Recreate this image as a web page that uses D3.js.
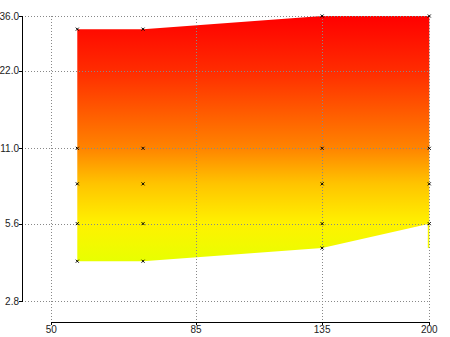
<!DOCTYPE html>
<html>
<head>
<meta charset="utf-8">
<script src="https://d3js.org/d3.v7.min.js"></script>
<style>
  body { margin: 0; background: #fff; }
  text { font-family: "Liberation Sans Narrow", "Arial Narrow", "Liberation Sans", sans-serif; font-size: 10px; fill: #222; }
</style>
</head>
<body>
<svg id="chart" width="450" height="337"></svg>
<script>
// tick labels
const xTicks = [50, 85, 135, 200];
const yTicks = [2.8, 5.6, 11.0, 22.0, 36.0];

// envelope of the filled region
const xs = [55, 70, 135, 200];
const upper = [32, 32, 36, 36];
const lower = [4, 4, 4.5, 5.6];

// sample points (x markers)
const pointX = [55, 55, 55, 55, 55, 70, 70, 70, 70, 70, 135, 135, 135, 135, 135, 200, 200, 200, 200];
const pointY = [4, 5.6, 8, 11, 32, 4, 5.6, 8, 11, 32, 4.5, 5.6, 8, 11, 36, 5.6, 8, 11, 36];

// colour ramp by value
const gradValues = [36, 22, 11, 8, 5.6, 4];
const gradColors = ["#ff0000", "#ff2c00", "#ff8400", "#ffc400", "#fff200", "#e8ff00"];

const svg = d3.select("#chart");

const x = d3.scaleLog().domain([50, 200]).range([51.3, 429.3]);
const y = d3.scaleLog().domain([2.8, 36]).range([301, 16]);

// gradient
const grad = svg.append("defs").append("linearGradient")
    .attr("id", "fillGrad")
    .attr("gradientUnits", "userSpaceOnUse")
    .attr("x1", 0).attr("x2", 0)
    .attr("y1", y(36)).attr("y2", y(4));
gradValues.forEach((v, i) => {
    grad.append("stop")
        .attr("offset", (y(v) - y(36)) / (y(4) - y(36)))
        .attr("stop-color", gradColors[i]);
});

// filled region
const area = d3.area()
    .x(d => x(d[0]))
    .y0(d => y(d[1]))
    .y1(d => y(d[2]));
svg.append("path")
    .datum(xs.map((v, i) => [v, lower[i], upper[i]]))
    .attr("d", area)
    .attr("fill", "url(#fillGrad)");

// thin sliver on the right edge
svg.append("rect")
    .attr("x", x(200) - 1.5)
    .attr("width", 1.5)
    .attr("y", y(5.6))
    .attr("height", y(4.5) - y(5.6))
    .attr("fill", "url(#fillGrad)");

// grid
svg.append("g").selectAll("line").data(yTicks).join("line")
    .attr("x1", 22).attr("x2", x(200))
    .attr("y1", d => Math.round(y(d)) + 0.5).attr("y2", d => Math.round(y(d)) + 0.5)
    .attr("stroke", "#888").attr("stroke-dasharray", "1,2");
svg.append("g").selectAll("line").data(xTicks).join("line")
    .attr("x1", d => Math.round(x(d)) + 0.5).attr("x2", d => Math.round(x(d)) + 0.5)
    .attr("y1", y(36)).attr("y2", 322)
    .attr("stroke", "#888").attr("stroke-dasharray", "1,2");

// y axis
const yAxis = svg.append("g");
yAxis.append("line")
    .attr("x1", 22.5).attr("x2", 22.5)
    .attr("y1", y(36)).attr("y2", y(2.8) + 1)
    .attr("stroke", "#000");
yAxis.selectAll(".tick").data(yTicks).join("line")
    .attr("x1", 19).attr("x2", 22)
    .attr("y1", d => Math.round(y(d)) + 0.5).attr("y2", d => Math.round(y(d)) + 0.5)
    .attr("stroke", "#000");
yAxis.selectAll("text").data(yTicks).join("text")
    .attr("x", 19)
    .attr("y", d => y(d) + 3.5)
    .attr("text-anchor", "end")
    .text(d => d.toFixed(1));

// x axis
const xAxis = svg.append("g");
xAxis.append("line")
    .attr("x1", x(50)).attr("x2", x(200) + 0.5)
    .attr("y1", 322.5).attr("y2", 322.5)
    .attr("stroke", "#000");
xAxis.selectAll(".tick").data(xTicks).join("line")
    .attr("x1", d => Math.round(x(d)) + 0.5).attr("x2", d => Math.round(x(d)) + 0.5)
    .attr("y1", 322).attr("y2", 325)
    .attr("stroke", "#000");
xAxis.selectAll("text").data(xTicks).join("text")
    .attr("x", d => x(d))
    .attr("y", 333)
    .attr("text-anchor", "middle")
    .text(d => d);

// markers
const s = 1.5;
const marks = svg.append("g").attr("stroke", "#000").attr("stroke-width", 1);
pointX.forEach((px, i) => {
    const cx = x(px), cy = y(pointY[i]);
    marks.append("path")
        .attr("d", `M${cx - s},${cy - s}L${cx + s},${cy + s}M${cx - s},${cy + s}L${cx + s},${cy - s}`);
});
</script>
</body>
</html>
